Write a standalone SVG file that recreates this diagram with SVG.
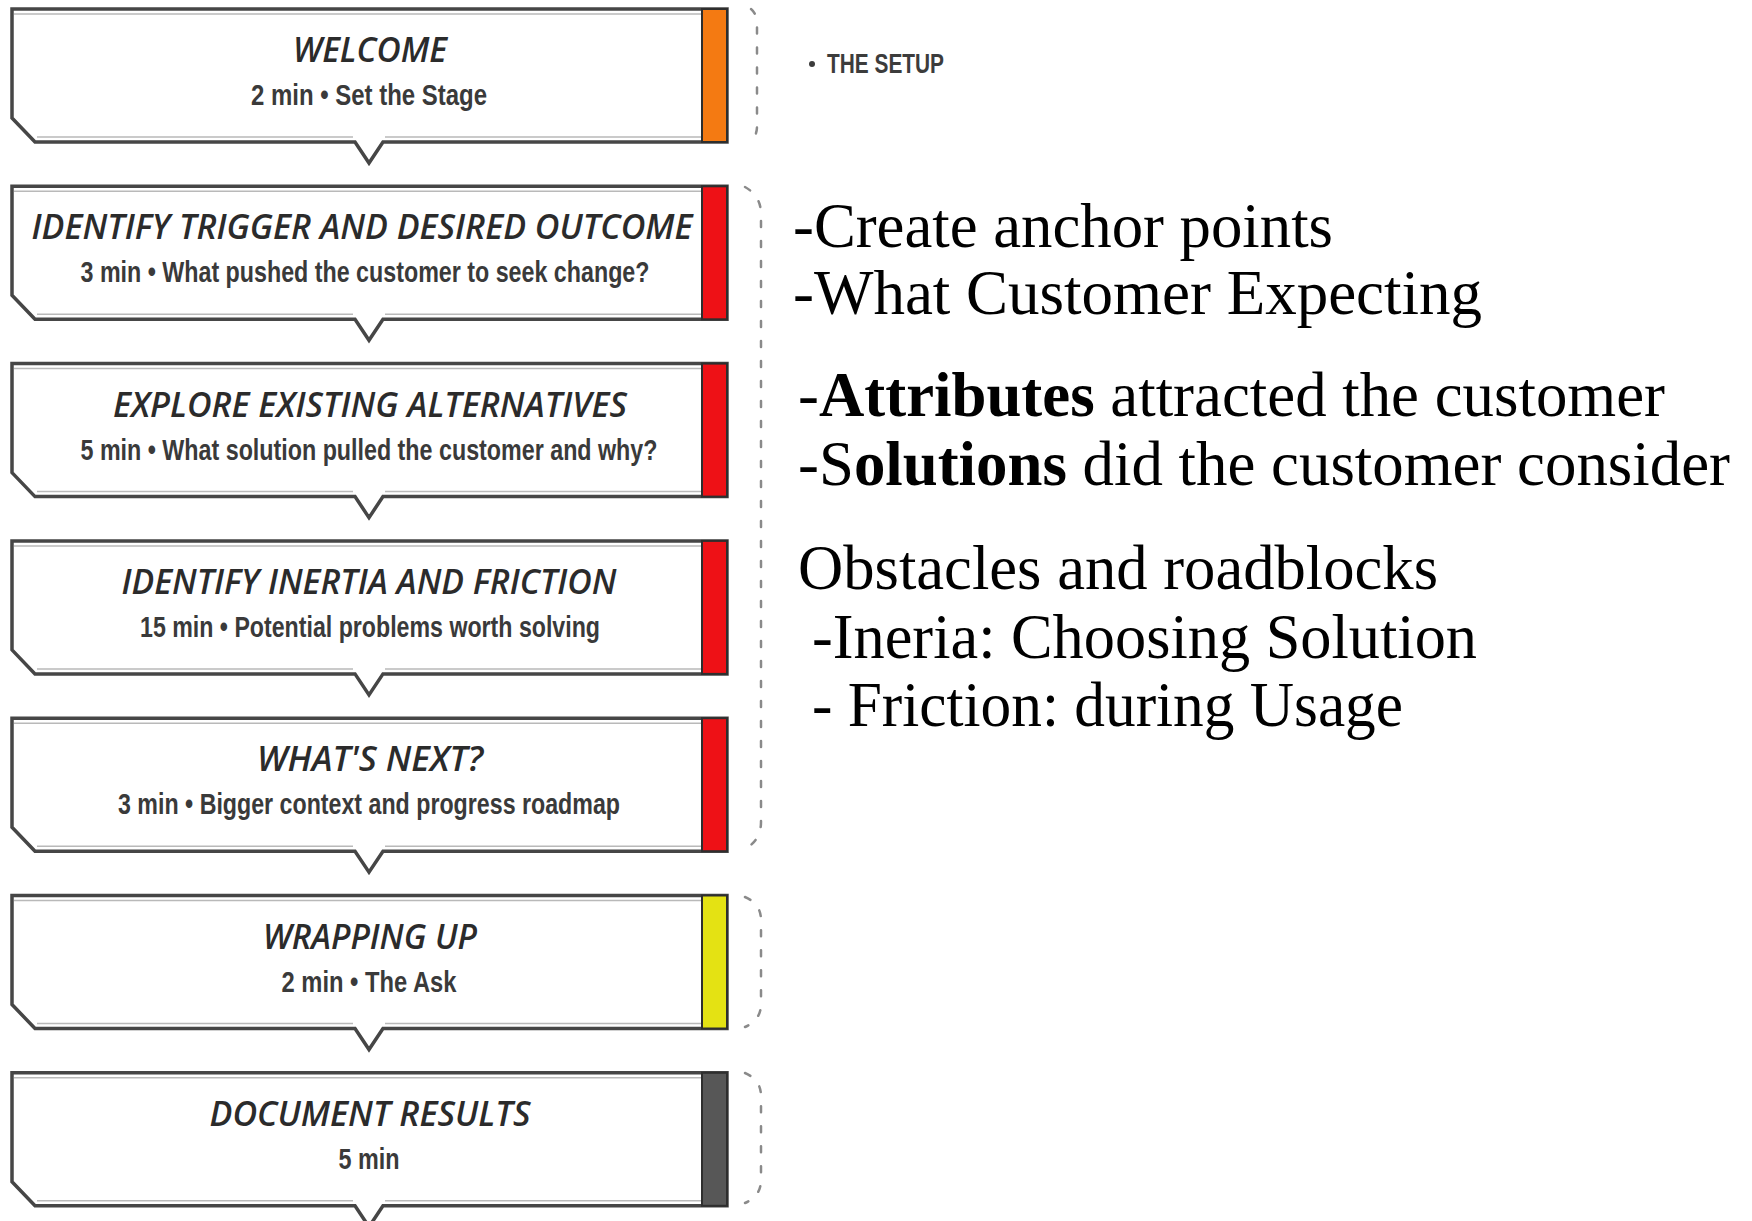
<svg xmlns="http://www.w3.org/2000/svg" xmlns:xlink="http://www.w3.org/1999/xlink" width="1752" height="1221" viewBox="0 0 1752 1221">
  <style>
    .frame { fill: #ffffff; stroke: #464646; stroke-width: 3.5; stroke-linejoin: miter; }
    .sheen { fill: none; stroke: #b9b9b9; stroke-width: 1.5; }
    .bar { stroke: #2e2e2e; stroke-width: 2; }
    .title { font-family: "Open Sans", "DejaVu Sans", sans-serif; font-style: italic; font-weight: 600; font-size: 34px; fill: #2b2b2b; text-anchor: middle; }
    .sub { font-family: "Liberation Sans", Arial, sans-serif; font-weight: 700; font-size: 29px; fill: #3a3a3a; text-anchor: middle; }
    .bracket { fill: none; stroke: #8a8a8a; stroke-width: 2.5; stroke-dasharray: 6 14; stroke-linecap: round; }
    .note { font-family: "Liberation Serif", "Times New Roman", serif; font-size: 63px; fill: #000000; }
    .note .b { font-weight: 700; }
    .setup { font-family: "Liberation Sans", Arial, sans-serif; font-weight: 700; font-size: 27px; fill: #3c3c3c; }
  </style>
  <defs>
    <!-- step card: chamfered lower-left corner, downward pointer under the centre -->
    <path id="card" d="M12,0 H727 V133 H383 L369,154 L355,133 H35 L12,109 Z"/>
    <path id="card-sheen" d="M14,5 H701 M37,128 H353 M385,128 H701"/>
  </defs>

  <rect width="1752" height="1221" fill="#ffffff"/>

  <!-- agenda steps -->
  <g id="step-welcome" transform="translate(0,9)">
    <use xlink:href="#card" class="frame"/>
    <use xlink:href="#card-sheen" class="sheen"/>
    <rect class="bar" x="702" y="0" width="25" height="133" fill="#f47a12"/>
    <text class="title" x="370" y="53" textLength="154" lengthAdjust="spacingAndGlyphs">WELCOME</text>
    <text class="sub" x="369" y="96" textLength="236" lengthAdjust="spacingAndGlyphs">2 min • Set the Stage</text>
  </g>

  <g id="step-trigger" transform="translate(0,186.3)">
    <use xlink:href="#card" class="frame"/>
    <use xlink:href="#card-sheen" class="sheen"/>
    <rect class="bar" x="702" y="0" width="25" height="133" fill="#ee1116"/>
    <text class="title" x="362" y="53" textLength="661" lengthAdjust="spacingAndGlyphs">IDENTIFY TRIGGER AND DESIRED OUTCOME</text>
    <text class="sub" x="365" y="96" textLength="569" lengthAdjust="spacingAndGlyphs">3 min • What pushed the customer to seek change?</text>
  </g>

  <g id="step-alternatives" transform="translate(0,363.6)">
    <use xlink:href="#card" class="frame"/>
    <use xlink:href="#card-sheen" class="sheen"/>
    <rect class="bar" x="702" y="0" width="25" height="133" fill="#ee1116"/>
    <text class="title" x="370" y="53" textLength="514" lengthAdjust="spacingAndGlyphs">EXPLORE EXISTING ALTERNATIVES</text>
    <text class="sub" x="369" y="96" textLength="577" lengthAdjust="spacingAndGlyphs">5 min • What solution pulled the customer and why?</text>
  </g>

  <g id="step-inertia" transform="translate(0,540.9)">
    <use xlink:href="#card" class="frame"/>
    <use xlink:href="#card-sheen" class="sheen"/>
    <rect class="bar" x="702" y="0" width="25" height="133" fill="#ee1116"/>
    <text class="title" x="369" y="53" textLength="495" lengthAdjust="spacingAndGlyphs">IDENTIFY INERTIA AND FRICTION</text>
    <text class="sub" x="370" y="96" textLength="460" lengthAdjust="spacingAndGlyphs">15 min • Potential problems worth solving</text>
  </g>

  <g id="step-next" transform="translate(0,718.2)">
    <use xlink:href="#card" class="frame"/>
    <use xlink:href="#card-sheen" class="sheen"/>
    <rect class="bar" x="702" y="0" width="25" height="133" fill="#ee1116"/>
    <text class="title" x="370" y="53" textLength="226" lengthAdjust="spacingAndGlyphs">WHAT'S NEXT?</text>
    <text class="sub" x="369" y="96" textLength="502" lengthAdjust="spacingAndGlyphs">3 min • Bigger context and progress roadmap</text>
  </g>

  <g id="step-wrapping-up" transform="translate(0,895.5)">
    <use xlink:href="#card" class="frame"/>
    <use xlink:href="#card-sheen" class="sheen"/>
    <rect class="bar" x="702" y="0" width="25" height="133" fill="#e4e213"/>
    <text class="title" x="370" y="53" textLength="214" lengthAdjust="spacingAndGlyphs">WRAPPING UP</text>
    <text class="sub" x="369" y="96" textLength="175" lengthAdjust="spacingAndGlyphs">2 min • The Ask</text>
  </g>

  <g id="step-document" transform="translate(0,1072.8)">
    <use xlink:href="#card" class="frame"/>
    <use xlink:href="#card-sheen" class="sheen"/>
    <rect class="bar" x="702" y="0" width="25" height="133" fill="#575757"/>
    <text class="title" x="370" y="53" textLength="321" lengthAdjust="spacingAndGlyphs">DOCUMENT RESULTS</text>
    <text class="sub" x="369" y="96" textLength="61" lengthAdjust="spacingAndGlyphs">5 min</text>
  </g>

  <!-- dashed section brackets to the right of the cards -->
  <g id="brackets">
    <path class="bracket" d="M751,9 Q757,14 757,24 V126 Q757,136 751,141"/>
    <path class="bracket" d="M745,187 Q761,196 761,214 V822 Q761,840 745,849"/>
    <path class="bracket" d="M745,897 Q761,904 761,920 V1004 Q761,1020 745,1027"/>
    <path class="bracket" d="M745,1073 Q761,1080 761,1096 V1180 Q761,1196 745,1203"/>
  </g>

  <!-- section label -->
  <g id="label-setup">
    <circle cx="812" cy="64" r="3" fill="#3c3c3c"/>
    <text class="setup" x="827" y="73" textLength="117" lengthAdjust="spacingAndGlyphs">THE SETUP</text>
  </g>

  <!-- notes -->
  <g id="notes">
    <text class="note" x="793" y="247" textLength="540" lengthAdjust="spacingAndGlyphs">-Create anchor points</text>
    <text class="note" x="793" y="314" textLength="689" lengthAdjust="spacingAndGlyphs">-What Customer Expecting</text>
    <text class="note" x="798" y="416" textLength="867" lengthAdjust="spacingAndGlyphs">-<tspan class="b">Attributes</tspan> attracted the customer</text>
    <text class="note" x="798" y="485" textLength="932" lengthAdjust="spacingAndGlyphs">-S<tspan class="b">olutions</tspan> did the customer consider</text>
    <text class="note" x="798" y="589" textLength="640" lengthAdjust="spacingAndGlyphs">Obstacles and roadblocks</text>
    <text class="note" x="812" y="658" textLength="665" lengthAdjust="spacingAndGlyphs">-Ineria: Choosing Solution</text>
    <text class="note" x="812" y="726" textLength="591" lengthAdjust="spacingAndGlyphs">- Friction: during Usage</text>
  </g>
</svg>
